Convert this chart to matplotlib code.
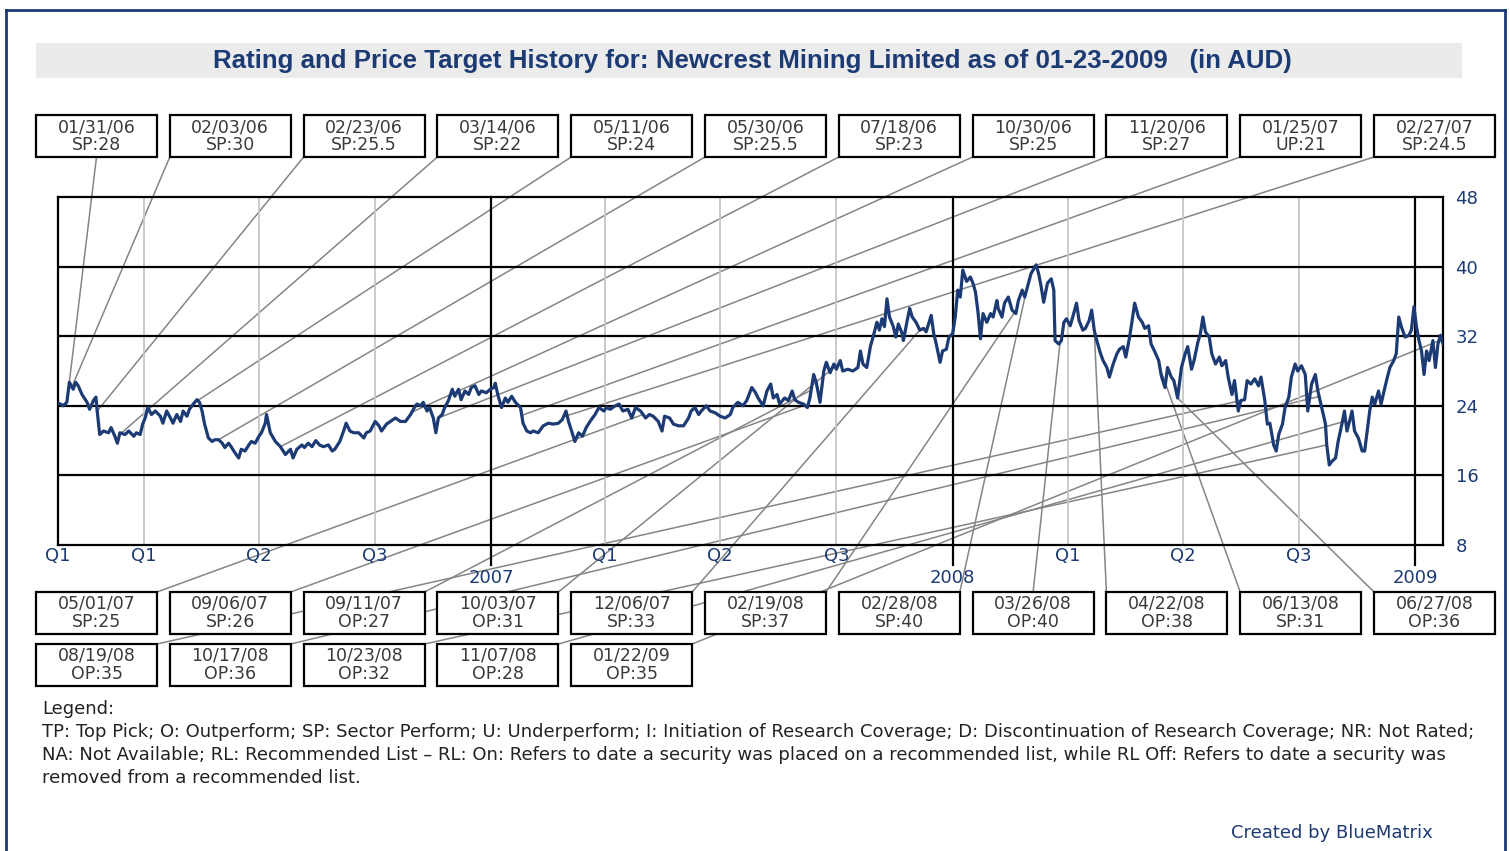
import numpy as np
import matplotlib
matplotlib.use("Agg")
import matplotlib.pyplot as plt
import matplotlib.dates as mdates
from matplotlib.patches import Rectangle, ConnectionPatch
from matplotlib.lines import Line2D
from matplotlib.transforms import blended_transform_factory

# figure size in pixels
W, H = 1510, 851
NAVY = "#1c3a73"

# price history, days counted from 2006-01-23
start = np.datetime64("2006-01-23")
end = np.datetime64("2009-01-23")

day_offset = [
    0, 2, 4, 7, 9, 12, 14, 16, 19, 23, 25, 28, 30, 31, 33, 36, 40, 42, 45, 47, 49,
    53, 56, 60, 62, 65, 67, 69, 71, 74, 77, 81, 83, 86, 89, 91, 94, 97, 99, 102, 104,
    107, 110, 112, 114, 116, 119, 122, 124, 127, 130, 132, 135, 137, 140, 143, 145,
    148, 151, 153, 156, 159, 161, 164, 165, 168, 172, 176, 180,
    184, 186, 189, 193, 195, 198, 201, 204, 207, 210, 214, 217, 219, 223, 226, 228,
    231, 234, 238, 242, 244, 247, 251, 254, 256, 260, 263, 267, 271, 275, 279, 282,
    284, 287, 289, 292, 294, 297, 299, 301, 304, 306, 309, 312, 314, 317, 319, 322,
    325, 327, 330, 333, 335, 339, 342, 345, 346, 348, 351, 354, 356, 359, 362, 366,
    368, 371,
    374, 376, 380, 384, 388, 392, 396, 399, 402, 404, 406, 409, 412, 415, 418, 421,
    425, 428, 432, 434, 437, 441, 444, 447, 451, 454, 457, 461, 465, 468, 471, 475,
    478, 480, 484, 487, 491, 495, 499, 501, 504, 507, 509, 513, 516, 520, 524, 528,
    532, 534, 538, 542, 545, 549, 552, 554,
    558, 561, 564, 566, 569, 571, 575, 578, 581, 583, 586, 590, 593, 595, 598, 600,
    603, 606, 608, 611, 614, 616, 619, 621, 625, 629, 633, 635, 637, 640, 643, 645,
    648, 650, 652, 654, 656, 658, 661, 663, 665, 668, 669, 672, 674, 676, 679, 682,
    685, 687, 691, 693, 695, 698, 700, 703, 705, 708, 710, 712, 714, 716, 719, 722,
    724, 726, 728, 730, 732, 735, 738, 740, 743,
    744, 747, 749, 752, 755, 758, 760, 763, 765, 768, 770, 774, 776, 778, 780, 783,
    786, 788, 789, 792, 794, 796, 798, 801, 803, 806, 808, 811, 813, 816, 818, 820,
    822, 825, 827, 830, 832, 835, 838, 840, 843, 845, 848, 850, 852, 855, 858, 860,
    863, 865, 868, 871, 873, 876, 878, 881, 883, 886, 889, 892, 894, 897, 899, 902,
    904, 906, 908, 911, 913, 916, 919, 921, 924, 926, 929,
    931, 934, 936, 939, 941, 944, 947, 950, 952, 955, 957, 959, 962, 964, 966, 969,
    971, 974, 976, 979, 981, 984, 987, 989, 992, 995, 997, 1000, 1003, 1004, 1006,
    1008, 1011, 1013, 1016, 1018, 1020, 1022, 1024, 1026, 1029, 1032, 1034, 1036,
    1038, 1040, 1042, 1045, 1047, 1050, 1052, 1054, 1057, 1059, 1061, 1063, 1066,
    1069, 1071, 1073, 1075, 1077, 1079, 1081, 1083, 1085, 1088, 1090, 1092, 1094, 1096,
]

close_px = [
    24.3, 24.2, 24.0, 24.4, 26.7, 25.9, 26.7, 26.3, 25.3, 24.4, 23.6, 24.6, 25.0, 23.4,
    20.7, 21.1, 20.9, 21.5, 20.5, 19.7, 20.9, 20.7, 21.1, 20.5, 20.9, 20.7, 21.9, 22.6,
    23.8, 23.0, 23.4, 22.8, 22.0, 23.4, 22.6, 22.0, 23.0, 22.2, 23.4, 22.8, 23.6, 24.2,
    24.7, 24.4, 23.4, 21.9, 20.3, 19.9, 20.1, 20.1, 19.7, 19.2, 19.7, 19.3, 18.6, 18.0,
    19.0, 18.8, 19.5, 19.9, 19.7, 20.5, 20.9, 22.0, 23.0, 20.9, 19.9, 19.3, 18.4,
    19.0, 18.0, 19.0, 19.5, 19.2, 19.7, 19.3, 20.0, 19.5, 19.3, 19.5, 18.8, 19.0, 19.9,
    21.1, 22.0, 21.1, 20.9, 20.9, 20.3, 20.9, 21.1, 22.2, 21.7, 21.1, 21.9, 22.2, 22.6,
    22.2, 22.2, 23.0, 23.8, 24.2, 24.0, 24.4, 23.4, 23.8, 22.6, 20.9, 22.6, 23.0, 23.8,
    24.6, 25.9, 25.1, 25.9, 24.7, 25.7, 25.3, 26.1, 26.3, 25.3, 25.7, 25.5, 25.9, 26.1,
    26.6, 25.3, 23.8, 24.9, 24.4, 25.1, 24.4, 23.8, 22.0, 21.1,
    20.9, 21.1, 20.9, 21.7, 22.0, 21.9, 22.0, 22.4, 23.4, 22.2, 21.3, 19.9, 20.9, 20.5,
    21.5, 22.2, 23.0, 23.8, 23.4, 23.8, 23.6, 24.0, 24.2, 23.4, 23.6, 22.6, 23.8, 23.4,
    22.6, 23.0, 22.8, 22.2, 21.1, 22.8, 22.6, 21.9, 21.7, 21.7, 22.6, 23.4, 23.8, 23.0,
    23.4, 24.0, 23.4, 23.2, 22.8, 22.6, 23.0, 23.8, 24.4, 24.0, 24.6, 26.1, 25.5, 24.9,
    24.0, 25.7, 26.5, 24.9, 25.3, 24.2, 24.9, 24.6, 25.7, 24.7, 24.4, 24.2, 23.8, 24.9,
    27.6, 26.7, 24.4, 28.0, 29.0, 27.8, 28.8, 28.2, 29.2, 28.0, 28.2, 28.0, 28.4, 30.3,
    28.8, 28.4, 30.9, 31.9, 33.6, 32.7, 34.0, 33.1, 36.3, 34.2, 33.1, 31.9, 33.4, 32.3,
    31.5, 33.8, 35.2, 34.2, 33.6, 32.7, 32.9, 32.5, 34.4, 32.3, 31.1, 29.0, 30.3, 30.5,
    31.9, 32.3, 34.2, 37.3, 36.5, 39.6, 38.3, 38.8, 38.1, 37.1, 34.8, 31.7, 34.6, 33.6,
    34.6, 34.2, 36.1,
    35.2, 34.2, 35.8, 36.5, 35.0, 34.6, 36.1, 37.3, 36.5, 38.1, 39.2, 40.2, 39.2, 37.7,
    35.9, 38.1, 38.6, 37.3, 31.5, 31.1, 31.5, 33.6, 34.0, 33.2, 34.2, 35.8, 33.8, 32.7,
    32.9, 33.8, 35.0, 32.7, 31.5, 30.0, 29.2, 28.4, 27.3, 28.8, 30.0, 30.5, 30.8, 29.6,
    31.9, 33.8, 35.8, 34.2, 33.6, 32.9, 33.2, 31.1, 30.2, 29.2, 27.5, 26.1, 28.4, 27.3,
    26.9, 24.9, 28.4, 30.0, 30.8, 28.2, 29.2, 31.3, 32.3, 34.2, 32.5, 31.9, 30.0, 28.8,
    29.6, 28.6, 29.2, 27.3, 25.3,
    26.9, 23.4, 24.6, 24.7, 26.9, 26.5, 27.1, 26.3, 27.3, 24.6, 21.9, 22.0, 19.5, 18.8,
    20.7, 21.9, 23.8, 25.0, 27.3, 28.8, 28.0, 28.6, 27.6, 23.4, 26.5, 27.6, 25.7, 23.8,
    21.9, 19.5, 17.2, 17.6, 18.0, 19.9, 21.9, 23.4, 21.1, 22.2, 23.4, 21.1, 20.3, 18.8,
    18.8, 21.1, 23.4, 25.0, 24.2, 25.7, 24.2, 26.1, 27.3, 28.4, 29.2, 30.0, 34.2, 33.1,
    31.9, 32.1, 32.7, 35.4, 33.1, 31.5, 30.3, 27.6, 30.3, 29.2, 31.5, 28.4, 31.1, 32.1,
    31.1,
]

# rating changes: top row, bottom row, second bottom row
rating_dates = [
    "2006-01-31", "2006-02-03", "2006-02-23", "2006-03-14", "2006-05-11", "2006-05-30",
    "2006-07-18", "2006-10-30", "2006-11-20", "2007-01-25", "2007-02-27",
    "2007-05-01", "2007-09-06", "2007-09-11", "2007-10-03", "2007-12-06", "2008-02-19",
    "2008-02-28", "2008-03-26", "2008-04-22", "2008-06-13", "2008-06-27",
    "2008-08-19", "2008-10-17", "2008-10-23", "2008-11-07", "2009-01-22",
]
rating_codes = [
    "SP:28", "SP:30", "SP:25.5", "SP:22", "SP:24", "SP:25.5",
    "SP:23", "SP:25", "SP:27", "UP:21", "SP:24.5",
    "SP:25", "SP:26", "OP:27", "OP:31", "SP:33", "SP:37",
    "SP:40", "OP:40", "OP:38", "SP:31", "OP:36",
    "OP:35", "OP:36", "OP:32", "OP:28", "OP:35",
]

y_ticks = [8, 16, 24, 32, 40, 48]

fig = plt.figure(figsize=(W / 100, H / 100), dpi=100)


def fx(x):
    return x / W


def fy(y):
    return 1 - y / H


# outer frame and title band
for xs, ys in [((6, 6), (10, 860)), ((6, 1505), (10, 10)), ((1505, 1505), (10, 860))]:
    fig.add_artist(Line2D([fx(v) for v in xs], [fy(v) for v in ys], color=NAVY, lw=2))
fig.add_artist(Rectangle((fx(36), fy(78)), fx(1462 - 36), (78 - 43) / H,
                         facecolor="#ebebeb", edgecolor="none"))
fig.text(fx(752), fy(61), "Rating and Price Target History for: Newcrest Mining Limited as of 01-23-2009   (in AUD)",
         ha="center", va="center", color=NAVY, fontsize=18.6, fontweight="bold",
         family="Liberation Sans")

ax = fig.add_axes([fx(58), fy(545), (1443 - 58) / W, (545 - 197) / H])
ax.set_facecolor("none")
ax.set_zorder(1)

dates = start + np.array(day_offset).astype("timedelta64[D]")
ax.plot(dates, close_px, color=NAVY, lw=2.3, zorder=3, solid_joinstyle="round")
ax.set_xlim(start, end)
ax.set_ylim(8, 48)

for v in y_ticks[1:-1]:
    ax.axhline(v, color="black", lw=1.6, zorder=1)
for yr in (2006, 2007, 2008):
    for m in ("04", "07", "10"):
        ax.axvline(np.datetime64(f"{yr}-{m}-01"), color="#c6c6c6", lw=1.3, zorder=0.5)
for yr in (2007, 2008, 2009):
    ax.axvline(np.datetime64(f"{yr}-01-01"), ymin=-20 / 348, ymax=1, color="black",
               lw=1.6, zorder=1, clip_on=False)

for s in ax.spines.values():
    s.set_linewidth(1.6)
ax.set_xticks([])
ax.yaxis.tick_right()
ax.set_yticks(y_ticks)
ax.tick_params(axis="y", length=0, pad=9, labelcolor=NAVY, labelsize=13)

# quarter and year labels under the axis
tr = blended_transform_factory(ax.transData, ax.transAxes)
q_labels = [(start, "Q1")]
for yr in (2006, 2007, 2008):
    q_labels += [(np.datetime64(f"{yr}-04-01"), "Q1"), (np.datetime64(f"{yr}-07-01"), "Q2"),
                 (np.datetime64(f"{yr}-10-01"), "Q3")]
for d, lab in q_labels:
    ax.text(d, -11 / 348, lab, transform=tr, ha="center", va="center", color=NAVY,
            fontsize=13, clip_on=False)
for yr in (2007, 2008, 2009):
    ax.text(np.datetime64(f"{yr}-01-01"), -33 / 348, str(yr), transform=tr, ha="center",
            va="center", color=NAVY, fontsize=13, clip_on=False)

# rating boxes with leader lines to the price on that date
box_w, box_h = 121, 42
price_num = mdates.date2num(dates)
for i, (d, code) in enumerate(zip(rating_dates, rating_codes)):
    if i < 11:
        col, top, at_top = i, 115, False
    elif i < 22:
        col, top, at_top = i - 11, 592, True
    else:
        col, top, at_top = i - 22, 644, True
    left = 36 + col * 133.8
    right = left + box_w
    dn = mdates.date2num(np.datetime64(d))
    pv = float(np.interp(dn, price_num, close_px))
    tx = ax.transData.transform((dn, pv))[0]
    if tx < left:
        ax_x = left
    elif tx > right:
        ax_x = right
    else:
        ax_x = (left + right) / 2
    ay = top if at_top else top + box_h
    con = ConnectionPatch(xyA=(fx(ax_x), fy(ay)), coordsA=fig.transFigure,
                          xyB=(dn, pv), coordsB=ax.transData,
                          color="#858585", lw=1.1, zorder=0)
    fig.add_artist(con)
    fig.add_artist(Rectangle((fx(left), fy(top + box_h)), box_w / W, box_h / H,
                             facecolor="white", edgecolor="black", lw=1.6, zorder=5))
    mm, dd = d[5:7], d[8:10]
    fig.text(fx(left + box_w / 2), fy(top + 12), f"{mm}/{dd}/{d[2:4]}", ha="center",
             va="center", fontsize=12.5, color="#3a3a3a", zorder=6)
    fig.text(fx(left + box_w / 2), fy(top + 30), code, ha="center", va="center",
             fontsize=12.5, color="#3a3a3a", zorder=6)

legend_lines = [
    "Legend:",
    "TP: Top Pick; O: Outperform; SP: Sector Perform; U: Underperform; I: Initiation of Research Coverage; "
    "D: Discontinuation of Research Coverage; NR: Not Rated;",
    "NA: Not Available; RL: Recommended List \u2013 RL: On: Refers to date a security was placed on a "
    "recommended list, while RL Off: Refers to date a security was",
    "removed from a recommended list.",
]
for k, line in enumerate(legend_lines):
    fig.text(fx(42), fy(709 + 23 * k), line, ha="left", va="center", fontsize=13,
             color="#222222")

fig.text(fx(1332), fy(833), "Created by BlueMatrix", ha="center", va="center",
         fontsize=13, color=NAVY)

fig.savefig("out.png", dpi=100, facecolor="white")
